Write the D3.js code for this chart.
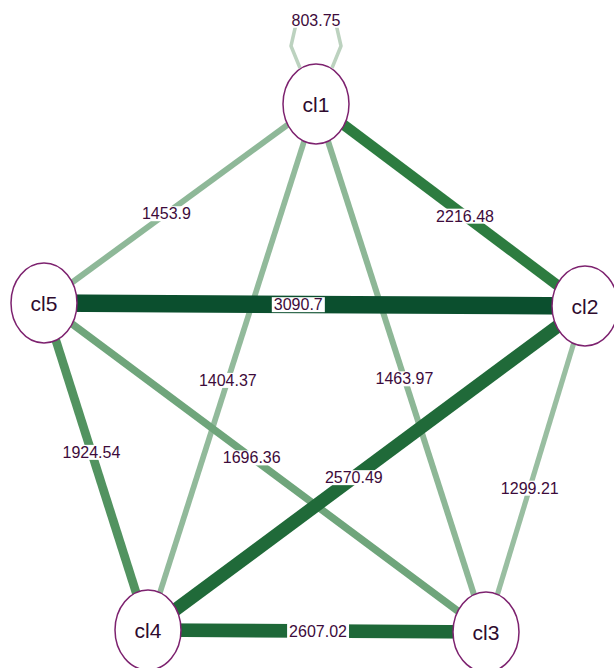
<!DOCTYPE html>
<html>
<head>
<meta charset="utf-8">
<script src="https://cdn.jsdelivr.net/npm/d3@7"></script>
<style>
  body { margin: 0; background: #fff; }
  text { font-family: "Liberation Sans", Arial, sans-serif; }
</style>
</head>
<body>
<div id="chart"></div>
<script>
// DATA
var nodeNames = ["cl1", "cl2", "cl3", "cl4", "cl5"];
var edgeSource = ["cl1", "cl1", "cl1", "cl1", "cl1", "cl5", "cl5", "cl5", "cl2", "cl2", "cl4"];
var edgeTarget = ["cl1", "cl2", "cl5", "cl4", "cl3", "cl2", "cl4", "cl3", "cl4", "cl3", "cl3"];
var edgeWeight = [803.75, 2216.48, 1453.9, 1404.37, 1463.97, 3090.7, 1924.54, 1696.36, 2570.49, 1299.21, 2607.02];

// LAYOUT (graph layout, in layout units)
var nodeX = [316, 585, 486, 148, 44];
var nodeY = [104, 306, 632, 630, 303];
var labelAt = [0, 0.554, 0.55, 0.525, 0.52, 0.47, 0.456, 0.47, 0.529, 0.558, 0.503];

var w = 614, h = 668;

var svg = d3.select("#chart")
  .append("svg")
  .attr("width", w)
  .attr("height", h);

var nodes = nodeNames.map(function(n, i) {
  return { name: n, x: nodeX[i], y: nodeY[i] };
});
var byName = {};
nodes.forEach(function(d) { byName[d.name] = d; });

var edges = edgeWeight.map(function(v, i) {
  return { s: byName[edgeSource[i]], t: byName[edgeTarget[i]], w: v, at: labelAt[i] };
});

// scales for stroke width and colour
var widthScale = d3.scalePow().exponent(1.6)
  .domain([803.75, 3100])
  .range([3, 17.5]);
var colorScale = d3.scaleLinear()
  .domain([800, 1450, 2200, 3100])
  .range(["#bcd2bf", "#8fb898", "#2e7d40", "#0b4f2e"]);

var edgeG = svg.append("g").attr("class", "edges");

// self loop drawn as a little polygon above the node
var loopLine = d3.line();
edgeG.selectAll("path.loop")
  .data(edges.filter(function(d) { return d.s === d.t; }))
  .enter()
  .append("path")
  .attr("class", "loop")
  .attr("fill", "none")
  .attr("stroke", function(d) { return colorScale(d.w); })
  .attr("stroke-width", 3.5)
  .attr("stroke-linejoin", "round")
  .attr("d", function(d) {
    var x = d.s.x, y = d.s.y;
    return loopLine([[x - 16, y - 36], [x - 25, y - 58], [x - 20, y - 80],
                     [x + 20, y - 80], [x + 25, y - 58], [x + 16, y - 36]]);
  });

edgeG.selectAll("line")
  .data(edges.filter(function(d) { return d.s !== d.t; }))
  .enter()
  .append("line")
  .attr("x1", function(d) { return d.s.x; })
  .attr("y1", function(d) { return d.s.y; })
  .attr("x2", function(d) { return d.t.x; })
  .attr("y2", function(d) { return d.t.y; })
  .attr("stroke", function(d) { return colorScale(d.w); })
  .attr("stroke-width", function(d) { return widthScale(d.w); });

// edge labels with white box behind
var labels = svg.append("g").attr("class", "edge-labels")
  .selectAll("g")
  .data(edges)
  .enter()
  .append("g")
  .attr("transform", function(d) {
    if (d.s === d.t) return "translate(" + d.s.x + "," + (d.s.y - 84) + ")";
    var x = d.s.x + (d.t.x - d.s.x) * d.at;
    var y = d.s.y + (d.t.y - d.s.y) * d.at;
    return "translate(" + x + "," + y + ")";
  });

labels.append("text")
  .attr("text-anchor", "middle")
  .attr("dy", "0.36em")
  .attr("font-size", "16px")
  .attr("fill", "#3d0b3b")
  .text(function(d) { return d.w; })
  .each(function(d) { d.bbox = this.getBBox(); });

labels.insert("rect", "text")
  .attr("fill", "#fff")
  .attr("x", function(d) { return d.bbox.x - 2; })
  .attr("y", function(d) { return d.bbox.y + 1; })
  .attr("width", function(d) { return d.bbox.width + 4; })
  .attr("height", function(d) { return d.bbox.height - 2; });

// nodes
var nodeG = svg.append("g").attr("class", "nodes")
  .selectAll("g")
  .data(nodes)
  .enter()
  .append("g")
  .attr("transform", function(d) { return "translate(" + d.x + "," + d.y + ")"; });

nodeG.append("ellipse")
  .attr("rx", 33)
  .attr("ry", 40)
  .attr("fill", "#fff")
  .attr("stroke", "#7d226f")
  .attr("stroke-width", 1.5);

nodeG.append("text")
  .attr("text-anchor", "middle")
  .attr("dy", "0.36em")
  .attr("font-size", "21px")
  .attr("fill", "#2e0b2e")
  .text(function(d) { return d.name; });
</script>
</body>
</html>
